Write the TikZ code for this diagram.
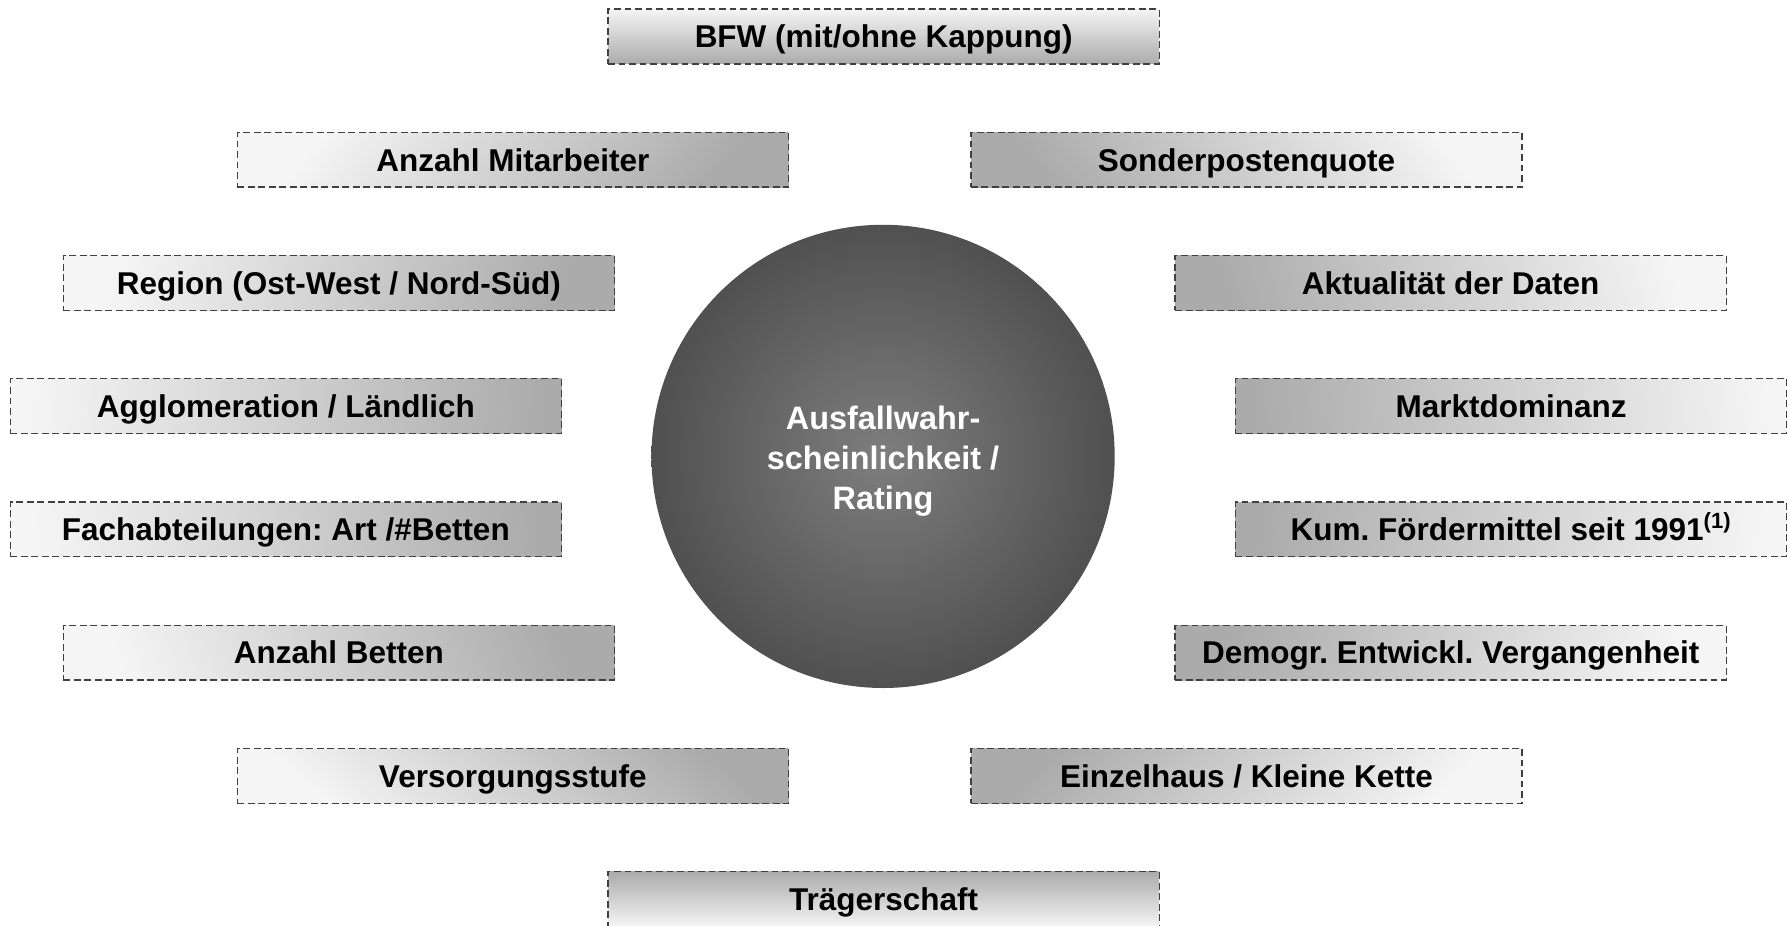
\documentclass[tikz,border=0pt]{standalone}
\usepackage{fontspec}
\setmainfont{Liberation Sans}
\frenchspacing
\definecolor{boxlight}{HTML}{F5F5F5}
\definecolor{boxdark}{HTML}{ABABAB}
\definecolor{circmid}{HTML}{7E7E7E}
\definecolor{circedge}{HTML}{3C3C3C}
\definecolor{edgegray}{HTML}{404040}
\pgfdeclareradialshading{ballshade}{\pgfpoint{0bp}{0bp}}{color(0bp)=(circmid); color(36bp)=(circedge); color(50bp)=(circedge)}
\tikzset{
  factor/.style={draw=edgegray, line width=0.6bp, dash pattern=on 3bp off 1.6bp,
    rectangle, minimum width=241.5bp, minimum height=24bp, inner sep=0pt,
    text height=9.9bp, text depth=0bp,
    shading=axis, top color=boxlight, bottom color=boxdark,
    font=\fontsize{13.8bp}{16bp}\selectfont\bfseries\frenchspacing, text=black},
  core/.style={circle, minimum size=203bp, inner sep=0pt, shading=ballshade},
  coretext/.style={align=center, text=white, inner sep=0pt,
    font=\fontsize{14.2bp}{17.5bp}\selectfont\bfseries}
}
\begin{document}
\begin{tikzpicture}[x=0.5bp, y=-0.5bp]
\useasboundingbox (0,0) rectangle (1568,811);
\node[core] (pd) at (774,400) {};
\node[coretext] (pdtext) at (774,404) {Ausfallwahr-\\scheinlichkeit /\\Rating};
\node[factor, shading angle=0] (bfw) at (774.5,32) {BFW (mit/ohne Kappung)};
\node[factor, shading angle=51] (ma) at (449.5,140) {Anzahl Mitarbeiter};
\node[factor, shading angle=-51] (sp) at (1092.5,140) {Sonderpostenquote};
\node[factor, shading angle=72] (reg) at (297,248) {Region (Ost-West / Nord-Süd)};
\node[factor, shading angle=-72] (akt) at (1271.5,248) {Aktualität der Daten};
\node[factor, shading angle=85] (agg) at (250.5,356) {Agglomeration / Ländlich};
\node[factor, shading angle=-85] (md) at (1324.5,356) {Marktdominanz};
\node[factor, shading angle=97] (fa) at (250.5,464) {Fachabteilungen: Art /\#Betten};
\node[factor, shading angle=-97] (kum) at (1324.5,464) {Kum. Fördermittel seit 1991\textsuperscript{(1)}};
\node[factor, shading angle=110] (ab) at (297,572) {Anzahl Betten};
\node[factor, shading angle=-109] (dem) at (1271.5,572) {Demogr. Entwickl. Vergangenheit};
\node[factor, shading angle=139] (vs) at (449.5,680) {Versorgungsstufe};
\node[factor, shading angle=-131] (ez) at (1092.5,680) {Einzelhaus / Kleine Kette};
\node[factor, shading angle=180] (tr) at (774.5,788) {Trägerschaft};
\end{tikzpicture}
\end{document}
